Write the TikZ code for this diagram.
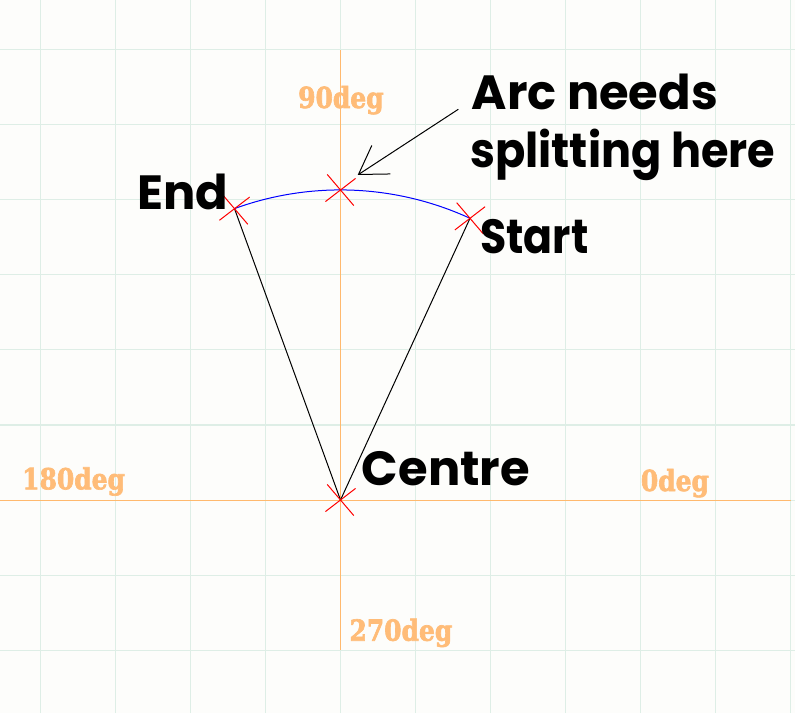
\documentclass[tikz,border=0pt]{standalone}
\usepackage{fontspec}
\usetikzlibrary{arrows.meta}
\newfontfamily\labfont{Poppins}
\newfontfamily\labfontn{Poppins}[FakeStretch=0.93]
\newfontfamily\labfontm{Poppins}[FakeStretch=0.89]
\newfontfamily\degfont{DejaVu Serif}[FakeStretch=0.86, FakeBold=2.2]
\definecolor{bgc}{RGB}{253,253,251}
\definecolor{gridc}{RGB}{222,238,230}
\definecolor{axisc}{RGB}{255,185,110}
\definecolor{degc}{RGB}{255,188,120}
\tikzset{
  gridline/.style={draw=gridc, line width=1pt},
  axisline/.style={draw=axisc, line width=1pt},
  radius line/.style={draw=black, line width=1pt},
  arcline/.style={draw=blue, line width=1pt},
  biglabel/.style={inner sep=0pt, anchor=base west, font=\labfont\bfseries\fontsize{48}{58}\selectfont, text=black},
  deglabel/.style={inner sep=0pt, anchor=base west, font=\degfont\bfseries\fontsize{29}{34}\selectfont, text=degc},
  pointer/.style={draw=black, line width=1pt, -{Straight Barb[length=27pt, width=34pt, line width=1pt]}},
  xmark/.pic={\draw[red, line width=1pt] (-15.1,-11.6) -- (15.1,11.6) (-13.3,15.6) -- (13.3,-15.6);}
}
\begin{document}
\begin{tikzpicture}[x=1pt, y=1pt]
\useasboundingbox (0,0) rectangle (795,713);
\fill[bgc] (0,0) rectangle (795,713);
% grid
\foreach \gx in {40.5,115.5,...,790.5} \draw[gridline] (\gx,0) -- (\gx,713);
\foreach \gy in {63,138,...,663} \draw[gridline] (0,\gy) -- (795,\gy);
% axes
\coordinate (C) at (340.5,213);
\draw[axisline] (340.5,63) -- (340.5,663);
\draw[axisline] (0,213) -- (790.5,213);
% points
\coordinate (S) at (470,494.7);
\coordinate (E) at (234.5,504.3);
\coordinate (M) at (340.5,523);
% radii and arc
\draw[radius line] (C) -- (S);
\draw[radius line] (C) -- (E);
\draw[arcline] (S) arc[start angle=65.3, end angle=110, radius=310];
% markers
\pic at (C) {xmark};
\pic at (S) {xmark};
\pic at (E) {xmark};
\pic at (M) {xmark};
% labels
\node[biglabel] (lend) at (137,503.7) {End};
\node[biglabel, font=\labfontm\bfseries\fontsize{48}{58}\selectfont] (lstart) at (480,459.7) {Start};
\node[biglabel] (lcentre) at (361.7,228) {Centre};
\node[biglabel] (larc1) at (471.7,603) {Arc needs};
\node[biglabel, font=\labfontn\bfseries\fontsize{48}{58}\selectfont] (larc2) at (470,545) {splitting here};
\node[deglabel] (d90) at (298,605) {90deg};
\node[deglabel] (d0) at (640.7,222) {0deg};
\node[deglabel] (d180) at (22,223.7) {180deg};
\node[deglabel] (d270) at (349.3,72.3) {270deg};
% pointer
\coordinate (AT) at (458.3,603.7);
\coordinate (AH) at (357.7,538);
\draw[pointer] (AT) -- (AH);
\end{tikzpicture}
\end{document}
